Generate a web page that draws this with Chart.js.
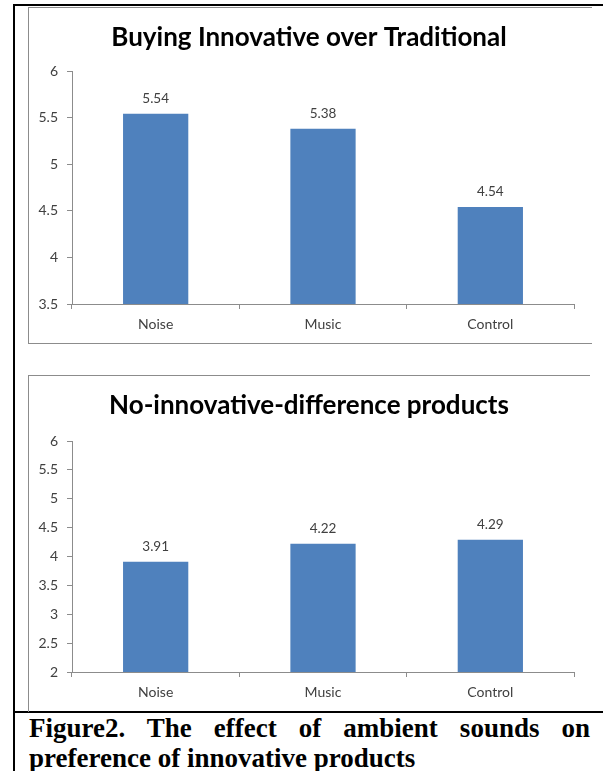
<!DOCTYPE html>
<html>
<head>
<meta charset="utf-8">
<script src="https://cdn.jsdelivr.net/npm/chart.js@4.4.1/dist/chart.umd.min.js"></script>
<style>
  body { margin: 0; background: #fff; width: 603px; height: 771px; position: relative; overflow: hidden; }
  .linha { position: absolute; background: #000; }
  .moldura { position: absolute; border-left: 1px solid #8c8c8c; border-top: 1px solid #8c8c8c; }
  canvas { position: absolute; }
  .legenda {
    position: absolute; left: 29px; width: 561px;
    font-family: "Liberation Serif", "Times New Roman", serif;
    font-weight: bold; font-size: 27px; line-height: 30px; color: #000;
  }
  .justifica { text-align: justify; text-align-last: justify; }
</style>
</head>
<body>
<div class="linha" style="left:13px; top:4px; width:2px; height:767px;"></div>
<div class="linha" style="left:13px; top:4px; width:590px; height:2px;"></div>
<div class="linha" style="left:13px; top:711px; width:590px; height:2px;"></div>

<div class="moldura" style="left:28px; top:7px; width:563px; height:335px; border-bottom:1px solid #8c8c8c;"></div>
<div class="moldura" style="left:28px; top:375px; width:561px; height:336px;"></div>

<canvas id="graficoInovador" style="left:29px; top:8px;" width="560" height="334"></canvas>
<canvas id="graficoSemDiferenca" style="left:29px; top:376px;" width="560" height="335"></canvas>

<div class="legenda justifica" style="top:713px;">Figure2. The effect of ambient sounds on</div>
<div class="legenda" style="top:743px;">preference of innovative products</div>

<script>
const categorias = ["Noise", "Music", "Control"];
const valoresInovador = [5.54, 5.38, 4.54];
const valoresSemDiferenca = [3.91, 4.22, 4.29];
const ticksInovador = [3.5, 4, 4.5, 5, 5.5, 6];
const ticksSemDiferenca = [2, 2.5, 3, 3.5, 4, 4.5, 5, 5.5, 6];

const corBarra = "#4f81bd";
const corEixo = "#8c8c8c";
const corTexto = "#404040";

// Escreve o valor acima de cada barra
const rotulosBarras = {
  id: "rotulosBarras",
  afterDatasetsDraw(chart) {
    const ctx = chart.ctx;
    ctx.save();
    ctx.font = "13.5px Lato";
    ctx.fillStyle = corTexto;
    ctx.textAlign = "center";
    ctx.textBaseline = "middle";
    chart.getDatasetMeta(0).data.forEach((barra, i) => {
      const valor = chart.data.datasets[0].data[i];
      ctx.fillText(valor.toFixed(2), barra.x, barra.y - 15);
    });
    ctx.restore();
  },
};

function criarGrafico(canvas, titulo, valores, ticks, alturaTopo, alturaEixoX) {
  return new Chart(canvas, {
    type: "bar",
    data: {
      labels: categorias,
      datasets: [
        {
          data: valores,
          backgroundColor: corBarra,
          borderWidth: 0,
          barPercentage: 0.39,
          categoryPercentage: 1,
        },
      ],
    },
    options: {
      responsive: false,
      animation: false,
      layout: { padding: 0 },
      plugins: {
        legend: { display: false },
        tooltip: { enabled: false },
        title: {
          display: true,
          text: titulo,
          color: "#000",
          font: { family: "Lato", size: 26, weight: "bold" },
          padding: { top: 14, bottom: alturaTopo - 14 - 31.2 },
        },
      },
      scales: {
        x: {
          grid: { drawOnChartArea: false, drawTicks: true, tickLength: 5, color: corEixo, offset: true },
          border: { display: true, color: corEixo },
          ticks: { color: corTexto, font: { family: "Lato", size: 14 }, padding: 7 },
          afterFit(scale) {
            scale.height = alturaEixoX;
          },
        },
        y: {
          min: ticks[0],
          max: ticks[ticks.length - 1],
          afterBuildTicks(scale) {
            scale.ticks = ticks.map((v) => ({ value: v }));
          },
          grid: { drawOnChartArea: false, drawTicks: true, tickLength: 5, color: corEixo },
          border: { display: true, color: corEixo },
          ticks: {
            color: corTexto,
            font: { family: "Lato", size: 14 },
            padding: 9,
            callback: (v) => String(+v.toFixed(2)),
          },
          afterFit(scale) {
            scale.width = 43;
          },
        },
        // eixo vazio à direita, só para deixar a margem
        margemDireita: {
          position: "right",
          grid: { display: false },
          border: { display: false },
          ticks: { display: false },
          afterFit(scale) {
            scale.width = 15;
          },
        },
      },
    },
    plugins: [rotulosBarras],
  });
}

criarGrafico(document.getElementById("graficoInovador"), "Buying Innovative over Traditional",
  valoresInovador, ticksInovador, 63, 38);
criarGrafico(document.getElementById("graficoSemDiferenca"), "No-innovative-difference products",
  valoresSemDiferenca, ticksSemDiferenca, 65, 39);
</script>
</body>
</html>
